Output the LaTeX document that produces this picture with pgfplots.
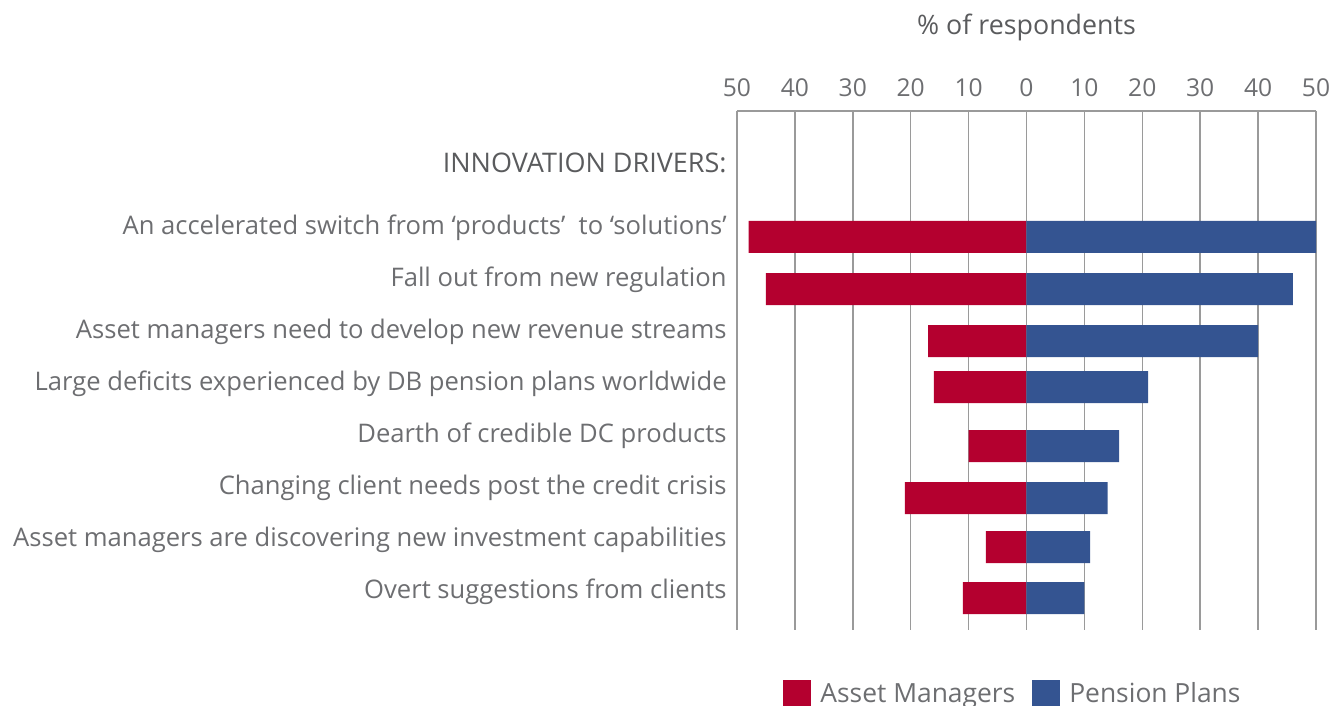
\documentclass[border=0pt]{standalone}
\usepackage{fontspec}
\setmainfont{Open Sans}
\usepackage{pgfplots}
\pgfplotsset{compat=1.18}
\definecolor{amred}{HTML}{B4002F}
\definecolor{ppblue}{HTML}{345491}
\definecolor{txtgray}{HTML}{6D6E71}
\definecolor{titgray}{HTML}{5A5B5D}
\definecolor{gridgray}{HTML}{9A9A9A}
\begin{document}
\begin{tikzpicture}
\begin{axis}[
  scale only axis, width=289.5pt, height=259.5pt,
  xmin=-50, xmax=50, ymin=111, ymax=630, y dir=reverse,
  axis x line*=top, axis y line*=left,
  y axis line style={draw=none},
  x axis line style={gridgray, line width=0.75pt},
  xtick={-50,-40,...,50},
  xticklabels={50,40,30,20,10,0,10,20,30,40,50},
  xmajorgrids, grid style={gridgray, line width=0.75pt},
  major tick length=0pt,
  xticklabel style={font=\fontsize{12.3}{14}\selectfont, text=txtgray, inner sep=0pt, yshift=7pt},
  /pgf/number format/assume math mode=true,
  ytick={161,226,278,330,382,434,486,538,590},
  yticklabels={{\fontsize{13.5}{15}\selectfont\textcolor{titgray}{INNOVATION DRIVERS:}},
    An accelerated switch from ‘products’~ to ‘solutions’,
    Fall out from new regulation,
    Asset managers need to develop new revenue streams,
    Large deficits experienced by DB pension plans worldwide,
    Dearth of credible DC products,
    Changing client needs post the credit crisis,
    Asset managers are discovering new investment capabilities,
    Overt suggestions from clients},
  yticklabel style={font=\fontsize{12.8}{15}\selectfont, text=txtgray, anchor=east, inner sep=0pt, xshift=-5pt, yshift=-1pt},
  xbar, bar shift=0pt, bar width=32,
  legend columns=2,
  legend style={at={(axis cs:-50,630)}, anchor=north west, xshift=23pt, yshift=-25pt,
    draw=none, fill=none, inner sep=0pt, font=\fontsize{13.2}{15}\selectfont, text=txtgray,
    nodes={inner sep=0pt},
    /tikz/every odd column/.append style={column sep=4.5pt},
    /tikz/every even column/.append style={column sep=8.5pt}},
  legend image code/.code={\fill[#1,draw=none] (0pt,-7pt) rectangle (14pt,7pt);},
]
\addplot[fill=amred, draw=none] coordinates {(-48,237) (-45,289) (-17,341) (-16,387) (-10,446) (-21,498) (-7,547) (-11,598)};
\addplot[fill=ppblue, draw=none] coordinates {(50,237) (46,289) (40,341) (21,387) (16,446) (14,498) (11,547) (10,598)};
\legend{Asset Managers, Pension Plans}
\end{axis}
\node[font=\fontsize{13.4}{15}\selectfont, text=titgray] at ([yshift=42pt]current axis.north) {\% of respondents};
\pgfresetboundingbox
\path[use as bounding box] ([xshift=-368.5pt,yshift=-38pt]current axis.south west) rectangle ([xshift=298.5pt,yshift=315pt]current axis.south west);
\end{tikzpicture}
\end{document}
